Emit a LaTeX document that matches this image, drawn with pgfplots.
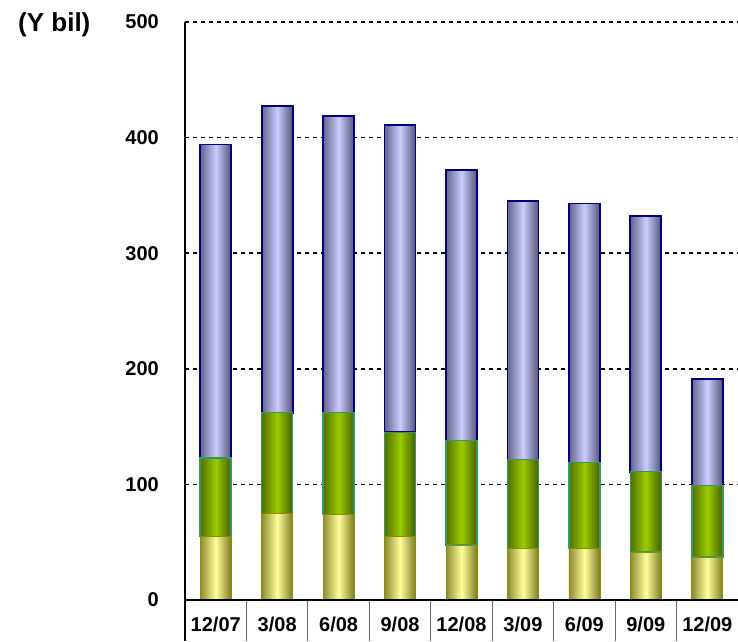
\documentclass[border=0pt]{standalone}
\usepackage{pgfplots}
\usepackage{pgfplotstable}
\pgfplotsset{compat=1.18}
\usepackage{fontspec}
\setmainfont{Liberation Sans}

\definecolor{blueleft}{RGB}{100,100,140}
\definecolor{bluemid}{RGB}{204,204,255}
\definecolor{blueright}{RGB}{84,84,120}
\definecolor{blueline}{RGB}{0,0,128}
\definecolor{greenleft}{RGB}{84,110,0}
\definecolor{greenmid}{RGB}{153,204,0}
\definecolor{greenright}{RGB}{72,94,0}
\definecolor{greenline}{RGB}{51,153,102}
\definecolor{yellowleft}{RGB}{140,140,50}
\definecolor{yellowmid}{RGB}{255,255,153}
\definecolor{yellowright}{RGB}{124,124,34}
\definecolor{yellowline}{RGB}{140,140,0}

% quarter-end balances (Y bil), stacked bottom to top
\pgfplotstableread{
idx low mid top
0 55   68   271
1 75   87   265
2 74   88   257
3 55   90   266
4 47.5 90.5 234
5 44.5 77   224
6 44.5 74.5 224
7 41.5 69.5 221
8 37   62   92
}\balances

\pgfplotsset{
  frame/.style={
    at={(185pt,41pt)}, anchor=south west,
    width=553pt, height=578pt, scale only axis,
    xmin=-0.5, xmax=8.5, ymin=0, ymax=500,
  },
}

\begin{document}
\begin{tikzpicture}
% axis, grid and labels
\begin{axis}[
  frame,
  axis x line*=bottom, axis y line*=left,
  x axis line style={line width=1.6pt, -},
  y axis line style={line width=1.4pt, -},
  xtick={0,...,8},
  xticklabels={12/07,3/08,6/08,9/08,12/08,3/09,6/09,9/09,12/09},
  ytick={0,100,...,500},
  major tick length=0pt,
  ymajorgrids,
  grid style={black, line width=1.5pt, dash pattern=on 4pt off 4pt},
  /pgf/number format/assume math mode=true,
  tick label style={font=\fontsize{20}{20}\selectfont\bfseries},
  yticklabel style={anchor=east, inner sep=0pt, xshift=-26pt},
  xticklabel style={anchor=center, inner sep=0pt, yshift=-24pt},
  clip=false,
]
% cell borders of the period row under the axis
\pgfplotsinvokeforeach{0.5,1.5,2.5,3.5,4.5,5.5,6.5,7.5}{
  \draw[black!60, line width=1.2pt] (axis cs:#1,0) -- ++(0pt,-41pt);
}
\draw[black, line width=1.4pt] (axis cs:-0.5,0) -- ++(0pt,-41pt);
\end{axis}
% one stacked column per period, so that each column gets its own shading
\pgfplotsinvokeforeach{0,1,2,3,4,5,6,7,8}{
\begin{axis}[frame, hide axis, ybar stacked, bar width=31pt]
\addplot[draw=yellowline, line width=0.7pt,
  left color=yellowleft, right color=yellowright, middle color=yellowmid]
  table[x=idx, y=low, restrict x to domain=#1:#1]{\balances};
\addplot[draw=greenline, line width=1.5pt,
  left color=greenleft, right color=greenright, middle color=greenmid]
  table[x=idx, y=mid, restrict x to domain=#1:#1]{\balances};
\addplot[draw=blueline, line width=1.8pt,
  left color=blueleft, right color=blueright, middle color=bluemid]
  table[x=idx, y=top, restrict x to domain=#1:#1]{\balances};
\end{axis}
}
% bottom axis line over the column feet
\begin{axis}[frame, hide axis, clip=false]
\draw[black, line width=1.6pt] (rel axis cs:0,0) -- (rel axis cs:1,0);
\end{axis}
\node[anchor=west, inner sep=0pt, font=\fontsize{26}{26}\selectfont\bfseries]
  at (18pt,616pt) {(Y bil)};
\pgfresetboundingbox
\path (0,0) rectangle (738pt,641pt);
\end{tikzpicture}
\end{document}
